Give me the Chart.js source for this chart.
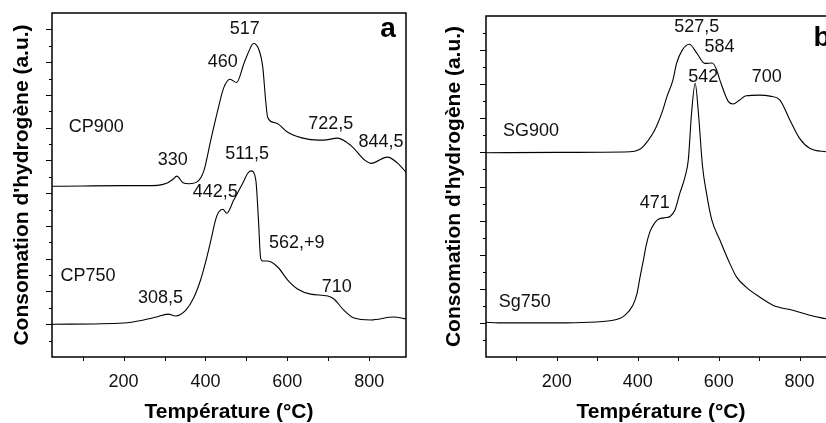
<!DOCTYPE html>
<html>
<head>
<meta charset="utf-8">
<script src="https://cdn.jsdelivr.net/npm/chart.js@4.4.0/dist/chart.umd.min.js"></script>
<style>
  html, body { margin: 0; padding: 0; background: #fff; overflow: hidden; }
  #wrap { position: relative; width: 826px; height: 423px; overflow: hidden; }
  #chartA { position: absolute; left: 0; top: 0; }
  #chartB { position: absolute; left: 413px; top: 0; }
</style>
</head>
<body>
<div id="wrap">
  <canvas id="chartA" width="413" height="423"></canvas>
  <canvas id="chartB" width="470" height="423"></canvas>
</div>
<script>
// TPR profiles: temperature (°C) vs hydrogen consumption (a.u., offset curves)

const cp900Temp   = [25, 100, 200, 283, 305, 320, 330, 345, 360, 381, 396, 413, 430, 445, 460, 476, 494, 505, 517, 530, 540, 547, 552, 567, 579, 601, 650, 689, 722.5, 755, 790, 804, 844.5, 870, 892];
const cp900Signal = [5.21, 5.22, 5.23, 5.24, 5.30, 5.42, 5.52, 5.32, 5.29, 5.36, 5.68, 6.62, 7.53, 8.23, 8.48, 8.38, 8.96, 9.30, 9.57, 9.40, 8.85, 7.84, 7.32, 7.16, 7.10, 6.86, 6.65, 6.62, 6.68, 6.46, 6.00, 5.91, 6.10, 5.91, 5.61];

const cp750Temp   = [25, 200, 249, 280, 308.5, 327, 352, 371, 388, 400, 413, 425, 432, 442.5, 452, 469, 491, 503, 511.5, 523, 529, 535, 540, 552, 577, 601, 626, 657, 699, 714, 738, 763, 804, 860, 892];
const cp750Signal = [1.00, 1.04, 1.13, 1.22, 1.31, 1.25, 1.43, 1.80, 2.35, 2.88, 3.55, 4.20, 4.42, 4.51, 4.39, 4.79, 5.30, 5.60, 5.68, 5.40, 4.30, 3.00, 2.93, 2.93, 2.74, 2.35, 2.07, 1.92, 1.86, 1.77, 1.43, 1.19, 1.13, 1.22, 1.16];

const sg900Temp   = [25, 200, 381, 400, 414, 438, 447, 462, 472, 487, 496, 510, 527.5, 546, 566, 584, 594, 603, 624, 636, 650, 668, 700, 727, 751, 776, 800, 825, 865, 890];
const sg900Signal = [5.99, 6.00, 6.02, 6.06, 6.18, 6.57, 6.78, 7.24, 7.63, 8.12, 8.61, 9.00, 9.17, 8.91, 8.61, 8.62, 8.45, 8.12, 7.49, 7.42, 7.52, 7.66, 7.68, 7.65, 7.54, 6.95, 6.41, 6.12, 6.02, 6.00];

const sg750Temp   = [25, 55, 200, 339, 368, 388, 398, 405, 414, 421, 430, 438, 451, 471, 480, 492, 504, 517, 525, 533, 542, 550, 560, 570, 583, 603, 624, 644, 668, 701, 734, 783, 833, 866, 890];
const sg750Signal = [1.02, 1.00, 1.00, 1.08, 1.22, 1.52, 1.85, 2.30, 2.84, 3.28, 3.67, 3.86, 4.04, 4.09, 4.12, 4.31, 4.80, 5.29, 5.78, 7.15, 8.03, 7.15, 5.60, 4.80, 4.02, 3.43, 2.84, 2.35, 2.05, 1.76, 1.52, 1.37, 1.20, 1.12, 1.05];

// x axis
const xTickValues = [200, 400, 600, 800];
const xMinorValues = [100, 200, 300, 400, 500, 600, 700, 800];

// peak labels, placed in data units (temperature, signal)
const notesA = [
  { text: '517', t: 496, v: 10.0 },
  { text: '460', t: 442, v: 9.0 },
  { text: 'CP900', t: 133, v: 7.02 },
  { text: '330', t: 320, v: 6.0 },
  { text: '511,5', t: 502, v: 6.2 },
  { text: '722,5', t: 706, v: 7.12 },
  { text: '844,5', t: 829, v: 6.56 },
  { text: '442,5', t: 424, v: 5.03 },
  { text: '562,+9', t: 623, v: 3.48 },
  { text: 'CP750', t: 113, v: 2.48 },
  { text: '308,5', t: 290, v: 1.8 },
  { text: '710', t: 721, v: 2.13 }
];
const notesB = [
  { text: '527,5', t: 546, v: 9.69 },
  { text: '584', t: 602, v: 9.1 },
  { text: '542', t: 562, v: 8.22 },
  { text: '700', t: 719, v: 8.2 },
  { text: 'SG900', t: 136, v: 6.64 },
  { text: '471', t: 442, v: 4.52 },
  { text: 'Sg750', t: 121, v: 1.61 }
];

const FONT = '"Liberation Sans", Arial, sans-serif';

// frame, tick marks, peak labels and panel letter
const panelDecor = {
  id: 'panelDecor',
  afterDraw(chart, args, opts) {
    const { ctx, chartArea: ca, scales: { x, y } } = chart;
    ctx.save();
    ctx.strokeStyle = '#000';
    ctx.lineWidth = 1;
    ctx.beginPath();
    xMinorValues.forEach(t => {
      const px = Math.round(x.getPixelForValue(t)) + 0.5;
      ctx.moveTo(px, ca.bottom);
      ctx.lineTo(px, ca.bottom + 4);
    });
    for (let v = 0.5; v < y.max; v += 0.5) {
      const py = Math.round(y.getPixelForValue(v)) + 0.5;
      const len = (v % 1 === 0) ? 6 : 3;
      ctx.moveTo(ca.left - len, py);
      ctx.lineTo(ca.left, py);
    }
    ctx.stroke();

    ctx.lineWidth = 1.5;
    ctx.strokeRect(ca.left, ca.top, ca.right - ca.left, ca.bottom - ca.top);

    ctx.fillStyle = '#111';
    ctx.font = '18px ' + FONT;
    ctx.textAlign = 'center';
    ctx.textBaseline = 'middle';
    opts.notes.forEach(n => {
      ctx.fillText(n.text, x.getPixelForValue(n.t), y.getPixelForValue(n.v));
    });

    ctx.fillStyle = '#000';
    ctx.font = 'bold 28px ' + FONT;
    ctx.fillText(opts.letter, ca.right + opts.letterDx, ca.top + opts.letterDy);
    ctx.restore();
  }
};

function makePanel(canvasId, series, notes, cfg) {
  return new Chart(document.getElementById(canvasId), {
    type: 'line',
    data: {
      datasets: series.map(s => ({
        data: s.temp.map((t, i) => ({ x: t, y: s.signal[i] })),
        borderColor: '#000',
        borderWidth: 1.1,
        pointRadius: 0,
        cubicInterpolationMode: 'monotone',
        fill: false
      }))
    },
    options: {
      responsive: false,
      animation: false,
      events: [],
      layout: { padding: { top: cfg.top, right: cfg.right, left: 0, bottom: 0 } },
      plugins: {
        legend: { display: false },
        tooltip: { enabled: false },
        panelDecor: { notes: notes, letter: cfg.letter, letterDx: cfg.letterDx, letterDy: cfg.letterDy }
      },
      scales: {
        x: {
          type: 'linear',
          min: 25,
          max: 890,
          afterBuildTicks: scale => { scale.ticks = xTickValues.map(v => ({ value: v })); },
          afterFit: scale => { scale.height = 66; },
          grid: { display: false, drawTicks: false },
          border: { display: false },
          ticks: { color: '#111', padding: 14, maxRotation: 0, font: { family: FONT, size: 18 } },
          title: {
            display: true,
            text: 'Température (°C)',
            color: '#000',
            padding: { top: 0, bottom: 0 },
            font: { family: FONT, size: 21, weight: 'bold', lineHeight: 1 }
          }
        },
        y: {
          type: 'linear',
          min: 0,
          max: cfg.yMax,
          afterFit: scale => { scale.width = cfg.axisWidth; },
          grid: { display: false, drawTicks: false },
          border: { display: false },
          ticks: { display: false },
          title: {
            display: true,
            text: "Consomation d'hydrogène (a.u.)",
            color: '#000',
            padding: { top: cfg.titlePad, bottom: 0 },
            font: { family: FONT, size: 21, weight: 'bold', lineHeight: 1 }
          }
        }
      }
    },
    plugins: [panelDecor]
  });
}

makePanel('chartA',
  [{ temp: cp900Temp, signal: cp900Signal }, { temp: cp750Temp, signal: cp750Signal }],
  notesA,
  { top: 13, right: 7, yMax: 10.5, axisWidth: 52, titlePad: 11.5, letter: 'a', letterDx: -18, letterDy: 16 });

makePanel('chartB',
  [{ temp: sg900Temp, signal: sg900Signal }, { temp: sg750Temp, signal: sg750Signal }],
  notesB,
  { top: 16, right: 47, yMax: 10, axisWidth: 73, titlePad: 30.5, letter: 'b', letterDx: -14, letterDy: 22 });
</script>
</body>
</html>
